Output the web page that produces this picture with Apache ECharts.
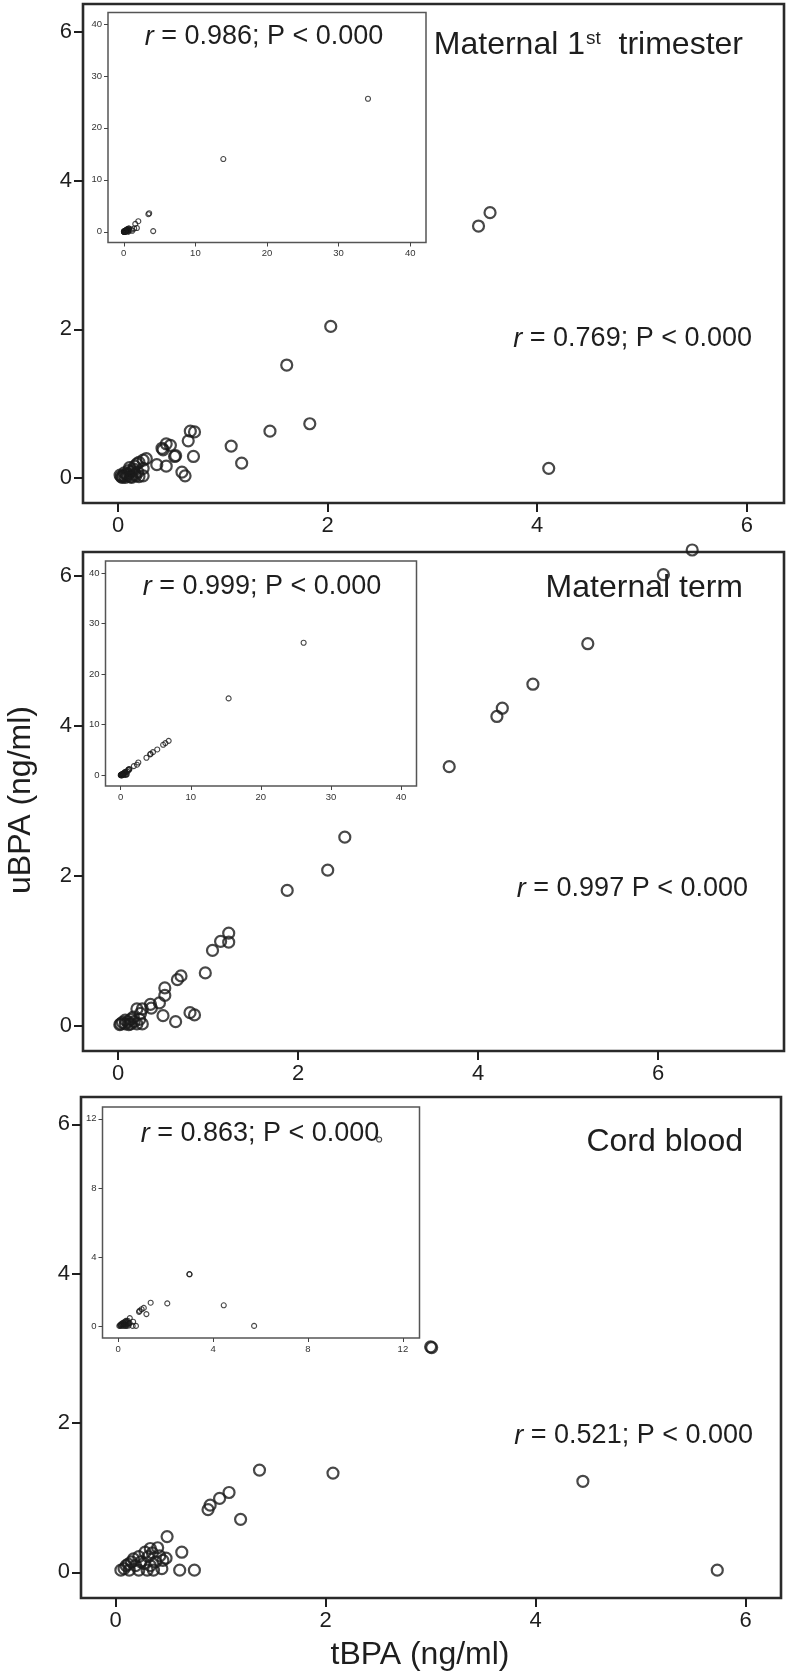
<!DOCTYPE html>
<html><head><meta charset="utf-8">
<script src="https://cdn.jsdelivr.net/npm/echarts@6/dist/echarts.min.js"></script>
<style>html,body{margin:0;padding:0;background:#fff}#c{width:788px;height:1673px}</style>
</head><body><div id="c"></div>
<script>
// ---- data (tBPA, uBPA) in ng/ml ----
const firstTrimester = [[3.55,3.57],[3.44,3.39],[2.03,2.04],[1.61,1.52],[1.83,0.73],[1.45,0.63],[1.08,0.43],[1.18,0.20],[4.11,0.13],
 [0.73,0.62],[0.69,0.63],[0.67,0.50],[0.72,0.29],[0.54,0.29],[0.55,0.30],[0.61,0.08],[0.64,0.03],
 [0.46,0.46],[0.50,0.44],[0.42,0.40],[0.43,0.38],[0.46,0.16],[0.37,0.18],[0.27,0.26],[0.24,0.24],[0.18,0.19],[0.16,0.16],[0.24,0.13],[0.24,0.03],
 [0.13,0.09],[0.10,0.06],[0.05,0.03],[0.02,0.04],[0.07,0.01],[0.13,0.01],[0.17,0.03],[0.08,0.05],[0.15,0.12],[0.20,0.21],[0.12,0.02],[0.03,0.02],[0.06,0.07],[0.20,0.02],[0.10,0.10],[0.16,0.05],[0.04,0.01],[0.09,0.03],[0.19,0.08],[0.11,0.14]];
const firstTrimesterExtra = [[13.9,14.0],[34.1,25.6]];

const maternalTerm = [[6.38,6.35],[6.06,6.02],[5.22,5.10],[4.61,4.56],[4.27,4.24],[4.21,4.13],[3.68,3.46],[2.52,2.52],[2.33,2.08],[1.88,1.81],
 [1.23,1.24],[1.23,1.12],[1.14,1.13],[1.05,1.01],[0.97,0.71],[0.70,0.67],[0.66,0.62],[0.52,0.51],[0.52,0.41],[0.46,0.31],[0.36,0.29],[0.37,0.24],
 [0.80,0.18],[0.85,0.15],[0.50,0.14],[0.64,0.06],[0.27,0.23],[0.21,0.23],[0.25,0.17],[0.17,0.12],[0.14,0.09],[0.08,0.08],[0.03,0.03],[0.08,0.03],
 [0.14,0.03],[0.21,0.03],[0.27,0.03],[0.05,0.05],[0.11,0.06],[0.18,0.06],[0.24,0.09],[0.12,0.02],[0.02,0.02]];
const maternalTermExtra = [[6.85,6.8],[15.4,15.2],[26.1,26.2]];

const cordBlood = [[3.01,3.01],[3.00,3.02],[1.37,1.37],[2.07,1.33],[4.45,1.22],[5.73,0.03],[1.08,1.07],[0.99,0.99],[0.90,0.90],[0.88,0.84],[1.19,0.71],
 [0.49,0.48],[0.63,0.27],[0.61,0.03],[0.75,0.03],[0.40,0.33],[0.33,0.32],[0.28,0.27],[0.48,0.19],[0.45,0.16],[0.44,0.05],[0.22,0.21],[0.24,0.14],
 [0.15,0.14],[0.10,0.09],[0.05,0.03],[0.13,0.03],[0.22,0.03],[0.30,0.03],[0.36,0.03],[0.33,0.09],[0.38,0.14],[0.31,0.21],[0.19,0.09],[0.08,0.05],
 [0.27,0.12],[0.35,0.26],[0.42,0.22],[0.17,0.18],[0.12,0.11]];
const cordBloodExtra = [[11.0,10.8]];

// tick labels
const mainTicks = [0,2,4,6];
const insetTicks40 = [0,10,20,30,40];
const insetTicks12 = [0,4,8,12];

const panelNames = ['Maternal 1{s|st}  trimester','Maternal term','Cord blood'];
const insetStats = ['0.986; P < 0.000','0.999; P < 0.000','0.863; P < 0.000'];
const mainStats = ['0.769; P < 0.000','0.997 P < 0.000','0.521; P < 0.000'];

const FONT = "'Liberation Sans', Arial, Helvetica, sans-serif";
const INK = '#1e1e1e';

const grids = [
  {left:83, top:4, width:701, height:499},
  {left:83, top:552, width:701, height:499},
  {left:81, top:1097, width:700, height:501},
  {left:108, top:12.5, width:318, height:230},
  {left:105.5, top:561, width:311, height:225},
  {left:102.5, top:1107, width:317, height:231}
].map((g,i)=>Object.assign(g,{show:true, borderColor: i<3?'#2a2a2a':'#555', borderWidth: i<3?2.6:1.5, backgroundColor: i<3?'transparent':'#fff', containLabel:false}));

const xRanges = [[-0.334,6.355],[-0.389,7.4],[-0.33,6.337],[-2.2,42.2],[-2.16,42.2],[-0.66,12.7]];
const yRanges = [[-0.336,6.377],[-0.331,6.323],[-0.343,6.366],[-2.06,42.2],[-2.13,42.37],[-0.67,12.68]];
const tickSets = [mainTicks,mainTicks,mainTicks,insetTicks40,insetTicks40,insetTicks12];

function axis(i, r, isX){
  const main = i<3;
  return {
    type:'value', gridIndex:i, min:r[0], max:r[1],
    axisLine:{show:false, onZero:false},
    splitLine:{show:false},
    axisTick:{show:true, inside:false, customValues:tickSets[i], length: main?9:4,
      lineStyle:{color: main?INK:'#444', width: main?2:1}},
    axisLabel:{show:true, customValues:tickSets[i], fontSize: main?22:9.5, color: main?INK:'#333',
      fontFamily:FONT, margin: main?(isX?12:11):(isX?6:6)}
  };
}

const xAxis = xRanges.map((r,i)=>axis(i,r,true));
const yAxis = yRanges.map((r,i)=>axis(i,r,false));

function scatter(i, data){
  const main = i<3;
  return {type:'scatter', xAxisIndex:i, yAxisIndex:i, data, clip:false, z: main?2:5,
    symbol:'circle', symbolSize: main?11:5,
    itemStyle:{color:'rgba(0,0,0,0)', borderColor:'#1a1a1a', borderWidth: main?2.2:1.1},
    emphasis:{disabled:true}, silent:true};
}
const series = [
  scatter(0, firstTrimester), scatter(1, maternalTerm), scatter(2, cordBlood),
  scatter(3, firstTrimester.concat(firstTrimesterExtra)),
  scatter(4, maternalTerm.concat(maternalTermExtra)),
  scatter(5, cordBlood.concat(cordBloodExtra))
];

const rich = {i:{fontStyle:'italic', fontSize:27, fontFamily:FONT, fill:INK}};
function txt(x,y,text,size,align,extra){
  return Object.assign({type:'text', x, y, z:100, silent:true,
    style:{text, fontSize:size, fontFamily:FONT, fill:INK, align, verticalAlign:'middle', rich}}, extra||{});
}
const graphic = [
  txt(264,37,'{i|r} = '+insetStats[0],27,'center'),
  txt(262,587,'{i|r} = '+insetStats[1],27,'center'),
  txt(260,1134,'{i|r} = '+insetStats[2],27,'center'),
  txt(752,339,'{i|r} = '+mainStats[0],27,'right'),
  txt(748,889,'{i|r} = '+mainStats[1],27,'right'),
  txt(753,1436,'{i|r} = '+mainStats[2],27,'right'),
  {type:'text', x:743, y:45, z:100, silent:true, style:{text:panelNames[0], fontSize:32, fontFamily:FONT, fill:INK, align:'right', verticalAlign:'middle',
     rich:{s:{fontSize:19, fontFamily:FONT, fill:INK, verticalAlign:'top', padding:[0,0,0,1]}}}},
  txt(743,588,panelNames[1],32,'right'),
  txt(743,1142,panelNames[2],32,'right'),
  txt(420,1655,'tBPA (ng/ml)',32,'center'),
  {type:'text', x:21, y:800, rotation:Math.PI/2, z:100, silent:true,
    style:{text:'uBPA (ng/ml)', fontSize:32, fontFamily:FONT, fill:INK, align:'center', verticalAlign:'middle'}}
];

const chart = echarts.init(document.getElementById('c'), null, {renderer:'canvas'});
chart.setOption({animation:false, backgroundColor:'#fff', grid:grids, xAxis, yAxis, series, graphic});
</script></body></html>
